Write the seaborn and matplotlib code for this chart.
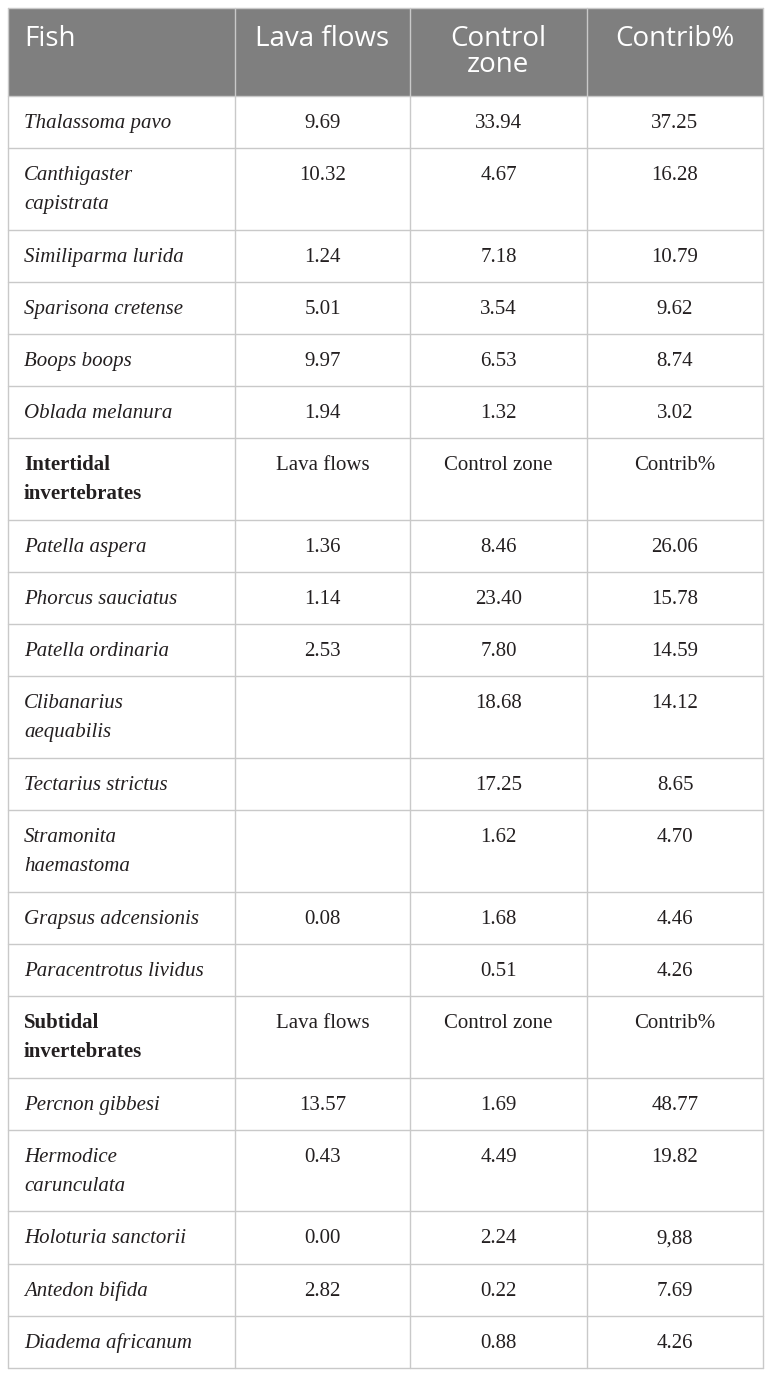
import matplotlib
matplotlib.use("Agg")
import matplotlib.pyplot as plt
import matplotlib.patches as mpatches
import seaborn as sns

# table content, one list per column, grouped by section
columns = ["Fish", "Lava flows", "Control\nzone", "Contrib%"]

fish_species = ["Thalassoma pavo", "Canthigaster\ncapistrata", "Similiparma lurida",
                "Sparisona cretense", "Boops boops", "Oblada melanura"]
fish_lava = ["9.69", "10.32", "1.24", "5.01", "9.97", "1.94"]
fish_control = ["33.94", "4.67", "7.18", "3.54", "6.53", "1.32"]
fish_contrib = ["37.25", "16.28", "10.79", "9.62", "8.74", "3.02"]

inter_title = "Intertidal\ninvertebrates"
inter_species = ["Patella aspera", "Phorcus sauciatus", "Patella ordinaria",
                 "Clibanarius\naequabilis", "Tectarius strictus", "Stramonita\nhaemastoma",
                 "Grapsus adcensionis", "Paracentrotus lividus"]
inter_lava = ["1.36", "1.14", "2.53", "", "", "", "0.08", ""]
inter_control = ["8.46", "23.40", "7.80", "18.68", "17.25", "1.62", "1.68", "0.51"]
inter_contrib = ["26.06", "15.78", "14.59", "14.12", "8.65", "4.70", "4.46", "4.26"]

sub_title = "Subtidal\ninvertebrates"
sub_species = ["Percnon gibbesi", "Hermodice\ncarunculata", "Holoturia sanctorii",
               "Antedon bifida", "Diadema africanum"]
sub_lava = ["13.57", "0.43", "0.00", "2.82", ""]
sub_control = ["1.69", "4.49", "2.24", "0.22", "0.88"]
sub_contrib = ["48.77", "19.82", "9,88", "7.69", "4.26"]

sub_columns = ["Lava flows", "Control zone", "Contrib%"]

# build the list of rows: (kind, cells)
rows = [("head", columns)]
rows += [("body", r) for r in zip(fish_species, fish_lava, fish_control, fish_contrib)]
rows.append(("section", [inter_title] + sub_columns))
rows += [("body", r) for r in zip(inter_species, inter_lava, inter_control, inter_contrib)]
rows.append(("section", [sub_title] + sub_columns))
rows += [("body", r) for r in zip(sub_species, sub_lava, sub_control, sub_contrib)]

sns.set_theme(style="white")
plt.rcParams["font.family"] = ["Liberation Serif", "DejaVu Serif"]

W, H = 772, 1377
fig = plt.figure(figsize=(W / 100, H / 100), dpi=100)
ax = fig.add_axes([0, 0, 1, 1])
ax.set_xlim(0, W)
ax.set_ylim(H, 0)
ax.axis("off")

col_edges = [8, 235, 410, 587, 763]
grid_color = "#c9c9c9"
head_color = "#7f7f7f"
body_size = 15

y = 8
row_tops = []
for kind, cells in rows:
    n_lines = max(c.count("\n") + 1 for c in cells)
    if kind == "head":
        h = 88
    else:
        h = 52.1 if n_lines == 1 else 81.7
    row_tops.append((y, h))

    if kind == "head":
        ax.add_patch(mpatches.Rectangle((col_edges[0], y), col_edges[-1] - col_edges[0], h,
                                        facecolor=head_color, edgecolor="none", zorder=0))
    for ci, text in enumerate(cells):
        if not text:
            continue
        if ci == 0:
            x, ha = col_edges[0] + 16, "left"
        else:
            x, ha = (col_edges[ci] + col_edges[ci + 1]) / 2, "center"
        for li, line in enumerate(text.split("\n")):
            if kind == "head":
                ax.text(x, y + 38 + 26.5 * li, line, ha=ha, va="baseline", color="white",
                        fontsize=20, family=["Open Sans", "DejaVu Sans"])
            elif kind == "section" and ci == 0:
                ax.text(x, y + 32 + 29 * li, line, ha=ha, va="baseline", color="#231f20",
                        fontsize=body_size, fontweight="bold")
            else:
                style = "italic" if (ci == 0 and kind == "body") else "normal"
                ax.text(x, y + 32 + 29 * li, line, ha=ha, va="baseline", color="#231f20",
                        fontsize=body_size, fontstyle=style)
    y += h

bottom = y
# grid lines
for top, h in row_tops:
    ax.plot([col_edges[0], col_edges[-1]], [top, top], color=grid_color, lw=1, zorder=2)
ax.plot([col_edges[0], col_edges[-1]], [bottom, bottom], color=grid_color, lw=1, zorder=2)
for xe in col_edges:
    ax.plot([xe, xe], [8, bottom], color=grid_color, lw=1, zorder=2)

fig.savefig("out.png", dpi=100, facecolor="white")
